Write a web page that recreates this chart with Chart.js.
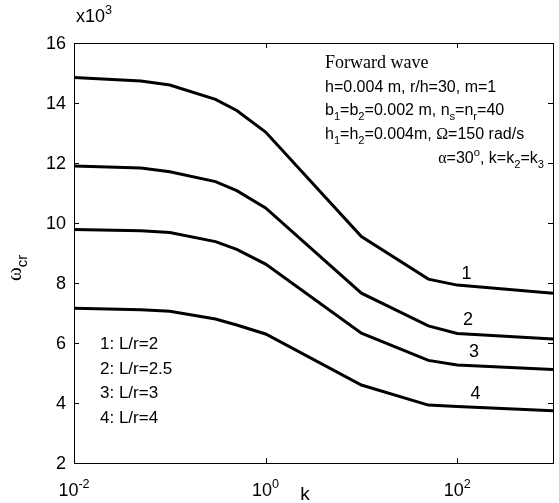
<!DOCTYPE html>
<html>
<head>
<meta charset="utf-8">
<script src="https://cdn.jsdelivr.net/npm/chart.js@4.4.1/dist/chart.umd.min.js"></script>
<style>
  html, body { margin: 0; padding: 0; background: #fff; }
  #wrap { width: 559px; height: 503px; }
</style>
</head>
<body>
<div id="wrap"><canvas id="omegaChart" width="559" height="503"></canvas></div>
<script>
// stiffness ratio k (log axis) and critical frequency in units of 10^3
const kValues = [0.01, 0.05, 0.1, 0.3, 0.5, 1, 10, 50, 100, 1000];
const omegaLr2 = [14.85, 14.73, 14.6, 14.12, 13.75, 13.03, 9.55, 8.13, 7.93, 7.66];
const omegaLr25 = [11.9, 11.83, 11.71, 11.38, 11.08, 10.5, 7.66, 6.57, 6.32, 6.13];
const omegaLr3 = [9.78, 9.74, 9.68, 9.38, 9.12, 8.63, 6.33, 5.42, 5.27, 5.12];
const omegaLr4 = [7.16, 7.11, 7.06, 6.8, 6.6, 6.3, 4.6, 3.93, 3.88, 3.74];

const yTicks = [2, 4, 6, 8, 10, 12, 14, 16];
const xTicks = [0.01, 1, 100];
const xTickExp = ["-2", "0", "2"];

const curveNames = ["1", "2", "3", "4"];
const legendLines = ["1: L/r=2", "2: L/r=2.5", "3: L/r=3", "4: L/r=4"];
// where each curve number sits, in data units
const curveLabelK = [125, 130, 150, 155];
const curveLabelW = [8.3, 6.75, 5.7, 4.3];

const SANS = "'Liberation Sans', Arial, sans-serif";
const SERIF = "'Liberation Serif', 'Times New Roman', serif";

const makeSet = (name, vals) => ({
  label: name,
  data: kValues.map((k, i) => ({ x: k, y: vals[i] })),
  borderColor: "#000",
  borderWidth: 3,
  pointRadius: 0,
  tension: 0,
  fill: false,
});

// draws text runs; each run may be shifted up (sup) or down (sub)
function richText(ctx, x, y, parts, size, family, align) {
  let total = 0;
  parts.forEach((p) => {
    const s = p.s ? size * 0.7 : size;
    ctx.font = `${s}px ${p.f || family}`;
    p.w = ctx.measureText(p.t).width;
    total += p.w;
  });
  let cx = x;
  if (align === "center") cx = x - total / 2;
  if (align === "right") cx = x - total;
  ctx.textAlign = "left";
  ctx.textBaseline = "alphabetic";
  parts.forEach((p) => {
    const s = p.s ? size * 0.7 : size;
    ctx.font = `${s}px ${p.f || family}`;
    let dy = 0;
    if (p.s === "sup") dy = -size * 0.45;
    if (p.s === "sub") dy = size * 0.3;
    ctx.fillText(p.t, cx, y + dy);
    cx += p.w;
  });
}

const frame = {
  id: "frame",
  afterDraw(chart) {
    const { ctx, chartArea: a } = chart;
    const xs = chart.scales.x;
    const ys = chart.scales.y;
    ctx.save();
    ctx.strokeStyle = "#000";
    ctx.fillStyle = "#000";
    ctx.lineWidth = 1;
    ctx.strokeRect(a.left + 0.5, a.top + 0.5, a.right - a.left, a.bottom - a.top);

    // inward ticks on all four sides
    ctx.beginPath();
    yTicks.forEach((v) => {
      const py = Math.round(ys.getPixelForValue(v)) + 0.5;
      ctx.moveTo(a.left, py); ctx.lineTo(a.left + 5, py);
      ctx.moveTo(a.right, py); ctx.lineTo(a.right - 5, py);
    });
    xTicks.forEach((v) => {
      const px = Math.round(xs.getPixelForValue(v)) + 0.5;
      ctx.moveTo(px, a.bottom); ctx.lineTo(px, a.bottom - 5);
      ctx.moveTo(px, a.top); ctx.lineTo(px, a.top + 5);
    });
    ctx.stroke();

    // y tick labels
    ctx.font = `18px ${SANS}`;
    ctx.textAlign = "right";
    ctx.textBaseline = "middle";
    yTicks.forEach((v) => {
      ctx.fillText(String(v), a.left - 8, ys.getPixelForValue(v) + 1);
    });

    // x tick labels 10^n
    xTicks.forEach((v, i) => {
      richText(ctx, xs.getPixelForValue(v), a.bottom + 33,
        [{ t: "10" }, { t: xTickExp[i], s: "sup" }], 18, SANS, "center");
    });

    // scale factor and axis titles
    richText(ctx, a.left + 2, 22, [{ t: "x10" }, { t: "3", s: "sup" }], 18, SANS);
    richText(ctx, 305, 500, [{ t: "k" }], 19, SANS, "center");
    ctx.save();
    ctx.translate(21, 268);
    ctx.rotate(-Math.PI / 2);
    richText(ctx, 0, 0, [{ t: "\u03c9", f: SERIF }, { t: "cr", s: "sub" }], 21, SANS, "center");
    ctx.restore();

    // parameter block
    richText(ctx, 325, 68, [{ t: "Forward wave" }], 18, SERIF);
    richText(ctx, 325, 92, [{ t: "h=0.004 m, r/h=30, m=1" }], 16, SANS);
    richText(ctx, 325, 115, [
      { t: "b" }, { t: "1", s: "sub" }, { t: "=b" }, { t: "2", s: "sub" },
      { t: "=0.002 m, n" }, { t: "s", s: "sub" }, { t: "=n" }, { t: "r", s: "sub" }, { t: "=40" },
    ], 16, SANS);
    richText(ctx, 325, 139, [
      { t: "h" }, { t: "1", s: "sub" }, { t: "=h" }, { t: "2", s: "sub" },
      { t: "=0.004m, " }, { t: "\u03a9", f: SERIF }, { t: "=150 rad/s" },
    ], 16, SANS);
    richText(ctx, 544, 163, [
      { t: "\u03b1", f: SERIF }, { t: "=30" }, { t: "o", s: "sup" }, { t: ", k=k" },
      { t: "2", s: "sub" }, { t: "=k" }, { t: "3", s: "sub" },
    ], 16, SANS, "right");

    // case list
    legendLines.forEach((t, i) => {
      richText(ctx, 100, 349 + i * 24.5, [{ t }], 17, SANS);
    });

    // curve numbers
    ctx.font = `18px ${SANS}`;
    ctx.textAlign = "center";
    ctx.textBaseline = "middle";
    curveNames.forEach((t, i) => {
      ctx.fillText(t, xs.getPixelForValue(curveLabelK[i]), ys.getPixelForValue(curveLabelW[i]));
    });
    ctx.restore();
  },
};

new Chart(document.getElementById("omegaChart"), {
  type: "line",
  data: {
    datasets: [
      makeSet("L/r=2", omegaLr2),
      makeSet("L/r=2.5", omegaLr25),
      makeSet("L/r=3", omegaLr3),
      makeSet("L/r=4", omegaLr4),
    ],
  },
  options: {
    responsive: false,
    animation: false,
    layout: { padding: { left: 74, top: 43, right: 6, bottom: 40 } },
    plugins: { legend: { display: false }, tooltip: { enabled: false } },
    scales: {
      x: { type: "logarithmic", min: 0.01, max: 1000, display: false },
      y: { type: "linear", min: 2, max: 16, display: false },
    },
  },
  plugins: [frame],
});
</script>
</body>
</html>
